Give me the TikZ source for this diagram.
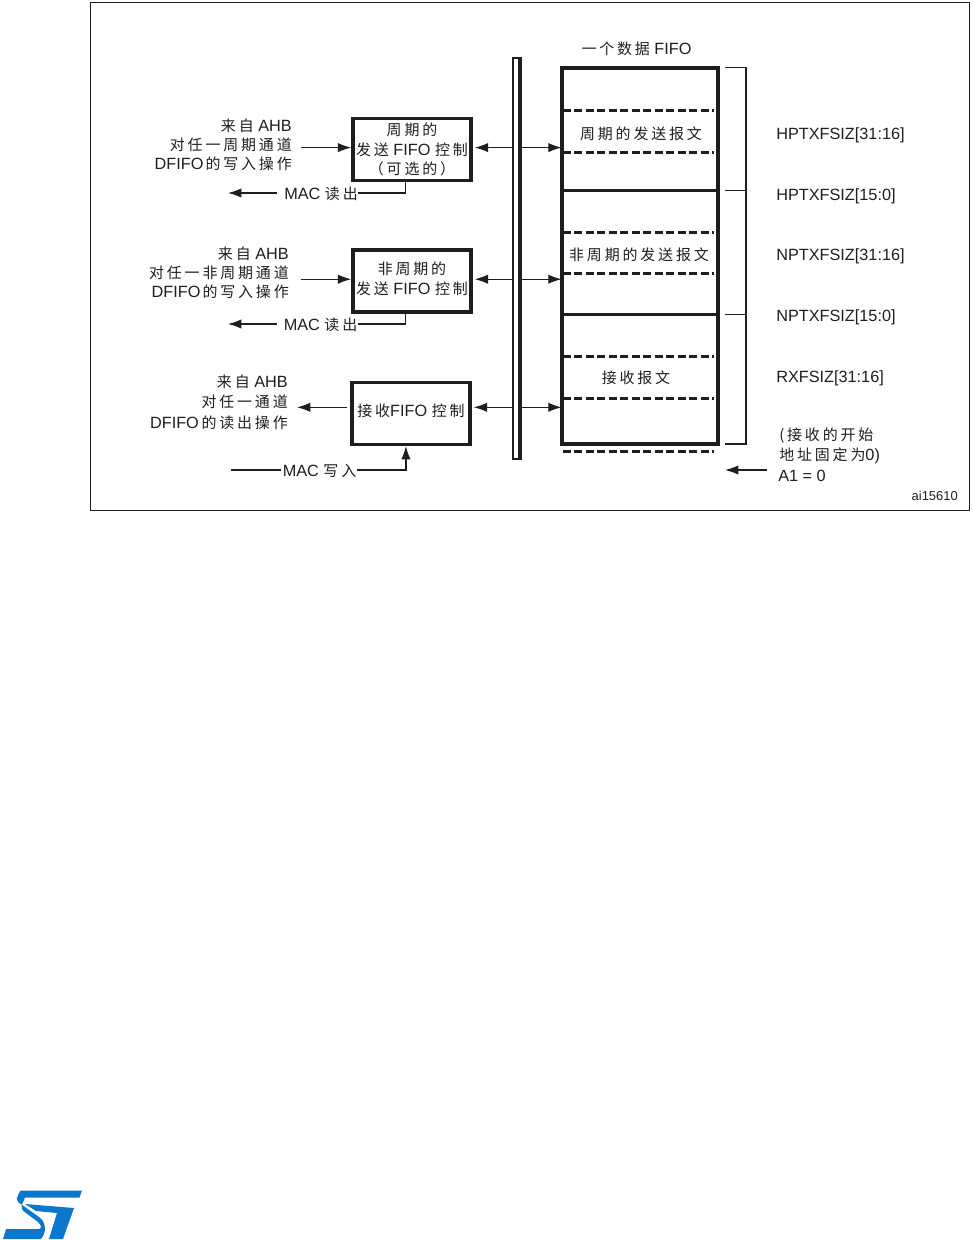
\documentclass[tikz,border=0pt]{standalone}
\usepackage{fontspec}
\setmainfont{Liberation Sans}
\newfontfamily\cjkfont[LetterSpace=19,Scale=0.92]{Noto Sans CJK SC}
\newcommand{\cn}[1]{{\cjkfont #1}}
\usetikzlibrary{arrows.meta}
\definecolor{stblue}{RGB}{10, 120, 205}
\definecolor{inkline}{RGB}{30, 30, 30}

\begin{document}
\begin{tikzpicture}[
    x=0.75pt, y=-0.75pt,
    lbl/.style={font=\fontsize{12.2}{14.4}\selectfont, inner sep=0pt, text=inkline},
    ctlbox/.style={draw=inkline, line width=2.6pt, inner sep=0pt, align=center,
                   minimum width=88.5pt, minimum height=46.5pt, lbl},
    arrowline/.style={draw=inkline, line width=0.9pt, -{Latex[length=10pt,width=7pt]}},
    plainline/.style={draw=inkline, line width=0.9pt},
    dashline/.style={draw=inkline, line width=2.3pt, dash pattern=on 6pt off 2.6pt},
    fifoline/.style={draw=inkline, line width=2.3pt},
]

\useasboundingbox (0,0) rectangle (972,1240);

% ================================================================
% OUTER FRAME
% ================================================================
\draw[inkline, line width=1pt] (90.5,2.5) rectangle (969.5,510.5);

% ================================================================
% CONTROL BOXES
% ================================================================
\node[ctlbox] (ctlper) at (412,149.3) {%
  \rule{0pt}{10pt}\cn{周期的}\\[0.6pt]\cn{发送} FIFO \cn{控制}\\[0.2pt]\cn{（可选的）}};
\node[ctlbox] (ctlnper) at (412,281) {%
  \cn{非周期的}\\[0.6pt]\cn{发送} FIFO \cn{控制}\rule[-4.5pt]{0pt}{4.5pt}};
\node[ctlbox] (ctlrx) at (411,413.3) {\cn{接收}FIFO \cn{控制}\rule[-4pt]{0pt}{4pt}};

% ================================================================
% DATA BUS AND FIFO
% ================================================================
\node[draw=inkline, line width=1.5pt, inner sep=0pt, minimum width=5.25pt,
      minimum height=300.6pt] (databus) at (516.5,258.5) {};
\fill[inkline] (518.3,57) rectangle (522,460);

\node[draw=inkline, line width=2.6pt, inner sep=0pt, minimum width=117pt,
      minimum height=282pt] (fifo) at (640,256) {};

% solid section lines
\foreach \yy in {190.8,314.8} {
  \draw[fifoline] (562,\yy) -- (718,\yy);
}
% dashed section lines
\foreach \yy in {110.7,152.7,232.7,273.3,356.7,398.7,451.2} {
  \draw[dashline] (563,\yy) -- (714,\yy);
}

\node[lbl] (fifotitle) at (636.5,49) {\cn{一个数据} FIFO};
\node[lbl] (pktper) at (641,134) {\cn{周期的发送报文}};
\node[lbl] (pktnper) at (639,255) {\cn{非周期的发送报文}};
\node[lbl] (pktrx) at (636,378) {\cn{接收报文}};

% ================================================================
% BUS ARROWS
% ================================================================
\foreach \nm/\yy in {per/147.6,nper/279.2,rx/407.3} {
  \coordinate (row\nm) at (517,\yy);
  \draw[arrowline, shorten >=1.5pt] (databus.west |- row\nm) -- (ctl\nm.east |- row\nm);
  \draw[arrowline, shorten >=-1pt] (databus.east |- row\nm) -- (fifo.west |- row\nm);
}

% ================================================================
% AHB LABELS
% ================================================================
\node[lbl, anchor=east, align=right] (wrper) at (292,144.6) {%
  \cn{来自} AHB\\\cn{对任一周期通道}\\DFIFO\hspace{1.5pt}\cn{的写入操作}};
\node[lbl, anchor=east, align=right] (wrnper) at (289,272.5) {%
  \cn{来自} AHB\\\cn{对任一非周期通道}\\DFIFO\hspace{1.5pt}\cn{的写入操作}};
\node[lbl, anchor=east, align=right] (rdrx) at (288,402) {%
  \cn{来自} AHB\\[1pt]\cn{对任一通道}\\[1pt]DFIFO\hspace{2pt}\cn{的读出操作}};

\draw[arrowline, shorten <=6.75pt] (wrper.east |- rowper) -- (ctlper.west |- rowper);
\draw[arrowline, shorten <=9pt] (wrnper.east |- rownper) -- (ctlnper.west |- rownper);
\draw[arrowline, shorten <=2.5pt, shorten >=6.7pt] (ctlrx.west |- rowrx) -- (rdrx.east |- rowrx);

% ================================================================
% MAC LINES
% ================================================================
\node[lbl, anchor=east] (macper) at (358,194) {MAC \cn{读出}};
\node[lbl, anchor=east] (macnper) at (357.5,325) {MAC \cn{读出}};
\node[lbl, anchor=east] (macrx) at (356.5,471) {MAC \cn{写入}};

\coordinate (macperend) at (228,193);
\coordinate (macnperend) at (228,324);
\coordinate (macrxstart) at (231,470);

\draw[plainline] (macper.east |- macperend) -| ([xshift=-4.6pt]ctlper.south);
\draw[plainline] (macnper.east |- macnperend) -| ([xshift=-4.6pt]ctlnper.south);
\draw[arrowline] ([xshift=-5pt]macper.west |- macperend) -- (macperend);
\draw[arrowline] ([xshift=-5pt]macnper.west |- macnperend) -- (macnperend);
\draw[plainline] (macrxstart) -- ([xshift=-0.8pt]macrx.west |- macrxstart);
\draw[arrowline] (macrx.east |- macrxstart) -| ([xshift=-3.8pt]ctlrx.south);

% ================================================================
% SIZE BRACKET AND REGISTER LABELS
% ================================================================
\draw[plainline] (725,67.3) -- (746,67.3) -- (746,444) -- (725,444);
\foreach \yy in {190.6,314.6} {
  \draw[plainline] (725,\yy) -- (746,\yy);
}

\foreach \nm/\yy/\txt in {hptxhi/135/HPTXFSIZ[31:16], hptxlo/196/HPTXFSIZ[15:0],
                          nptxhi/256/NPTXFSIZ[31:16], nptxlo/317/NPTXFSIZ[15:0],
                          rxsiz/378/RXFSIZ[31:16]} {
  \node[lbl, anchor=west] (\nm) at (776,\yy) {\txt};
}

\node[lbl, anchor=west, align=left] (rxnote) at (779,446) {%
  \cn{(接收的开始}\\[0.6pt]\cn{地址固定为}0)};
\node[lbl, anchor=west] (aonelbl) at (778,475.5) {A1 = 0};
\coordinate (aonetail) at (767,470);
\coordinate (aonetip) at (725,470);
\draw[arrowline] (aonetail) -- (aonetip);

\node[lbl, anchor=east, font=\fontsize{9.7}{11}\selectfont] (figref) at (958,495.5) {ai15610};

% ================================================================
% LOGO
% ================================================================
\fill[stblue] (20.5,1190.5) -- (82,1190.5) -- (79.5,1197.5) -- (25,1197.5)
  -- (21.5,1206) .. controls (21,1209) and (23,1211) .. (26,1213) -- (38,1222)
  .. controls (42,1226) and (42,1229) .. (38,1229) -- (6,1229) -- (3,1239)
  -- (41,1239) .. controls (47,1232) and (46,1222) .. (39,1217)
  -- (18,1202) .. controls (16,1200) and (16,1199) .. (20.5,1190.5) -- cycle;
\fill[stblue] (25,1204) -- (74,1208) -- (63,1239) -- (49,1239)
  -- (57,1213) -- (36,1211) -- cycle;

\end{tikzpicture}
\end{document}
